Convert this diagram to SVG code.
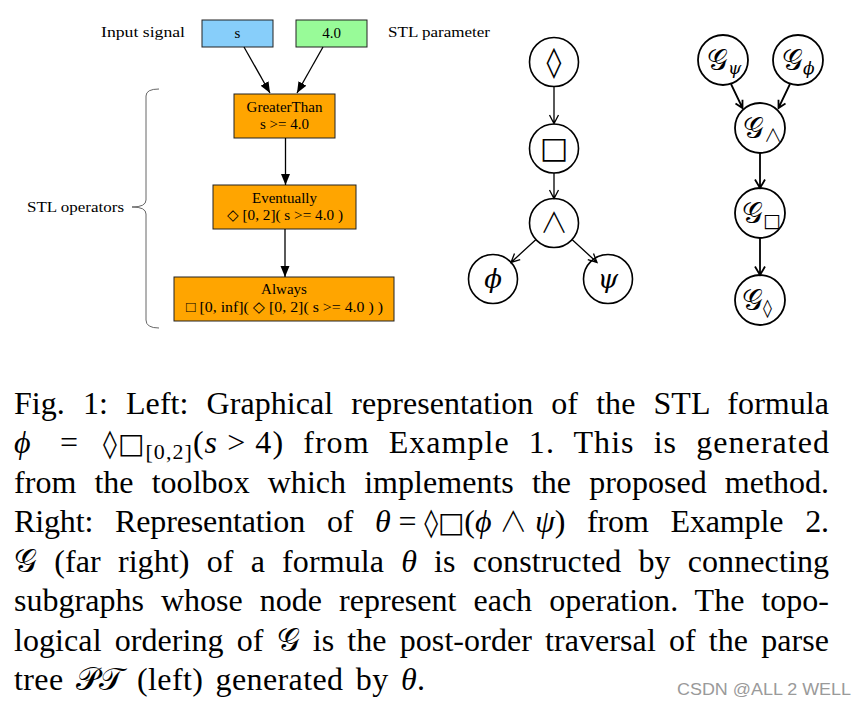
<svg xmlns="http://www.w3.org/2000/svg" width="866" height="705" viewBox="0 0 866 705">
<style>
.lbl{font-family:"Liberation Serif","DejaVu Serif",serif;font-size:15px;fill:#000}
.box{stroke:#222;stroke-width:1}
.cap{font-family:"Liberation Serif","DejaVu Serif","DejaVu Sans",serif;font-size:32px;fill:#000}
.it{font-style:italic}
.math{font-family:"DejaVu Serif","DejaVu Sans",serif}
.wedge{font-family:"Noto Sans CJK JP","DejaVu Sans",sans-serif;font-weight:300}
.node{fill:#fff;stroke:#000;stroke-width:1.6}
.node2{fill:#fff;stroke:#000;stroke-width:1.8}
.thin{font-family:"DejaVu Sans","Noto Sans",sans-serif;text-anchor:middle;fill:#000}
.gsym{font-family:"DejaVu Serif","DejaVu Sans","Noto Sans",serif;fill:#000}
.e1{stroke:#000;stroke-width:1.3;fill:none}
.e2{stroke:#000;stroke-width:1.8;fill:none}
.ev{stroke:#000;stroke-width:1.3;fill:none}
</style>
<defs>
<marker id="tri" markerUnits="userSpaceOnUse" markerWidth="12" markerHeight="10" refX="11" refY="4.5" orient="auto">
<path d="M0,0 L11,4.5 L0,9 Z" fill="#000"/>
</marker>
</defs>
<rect width="866" height="705" fill="#fff"/>

<!-- Left: toolbox graph -->
<text class="lbl" x="101" y="37" textLength="84" lengthAdjust="spacingAndGlyphs">Input signal</text>
<text class="lbl" x="388" y="37" textLength="102" lengthAdjust="spacingAndGlyphs">STL parameter</text>
<text class="lbl" x="27" y="212" textLength="97" lengthAdjust="spacingAndGlyphs">STL operators</text>
<path d="M159,89 Q146,89 146,96 L146,200 Q146,207 132,207 Q146,207 146,214 L146,320 Q146,328 159,328" fill="none" stroke="#666" stroke-width="1"/>

<g id="n-s">
<rect class="box" x="202" y="20" width="71" height="27" fill="#87CEFA"/>
<text class="lbl" x="237.5" y="38" text-anchor="middle">s</text>
</g>
<g id="n-param">
<rect class="box" x="296" y="20" width="71" height="27" fill="#98FB98"/>
<text class="lbl" x="331.5" y="38" text-anchor="middle">4.0</text>
</g>
<g id="n-greater">
<rect class="box" x="234" y="94" width="101" height="44" fill="#FFA500"/>
<text class="lbl" x="284.5" y="112" text-anchor="middle">GreaterThan</text>
<text class="lbl" x="284.5" y="129" text-anchor="middle">s &gt;= 4.0</text>
</g>
<g id="n-eventually">
<rect class="box" x="213" y="185" width="143" height="44" fill="#FFA500"/>
<text class="lbl" x="284.5" y="203" text-anchor="middle">Eventually</text>
<text class="lbl" x="285" y="220" text-anchor="middle" textLength="116" lengthAdjust="spacingAndGlyphs">◇ [0, 2]( s &gt;= 4.0 )</text>
</g>
<g id="n-always">
<rect class="box" x="174" y="277" width="220" height="44" fill="#FFA500"/>
<text class="lbl" x="284" y="294" text-anchor="middle">Always</text>
<text class="lbl" x="284.5" y="312" text-anchor="middle" textLength="197" lengthAdjust="spacingAndGlyphs">□ [0, inf]( ◇ [0, 2]( s &gt;= 4.0 ) )</text>
</g>

<!-- Middle: parse tree -->
<g id="p-ev">
<circle class="node" cx="554" cy="62" r="24.5"/>
<text class="thin" x="554" y="72" font-size="30">◊</text>
</g>
<g id="p-alw">
<circle class="node" cx="554" cy="148.5" r="24.5"/>
<text class="thin" x="554" y="158" font-size="30">□</text>
</g>
<g id="p-and">
<circle class="node" cx="554" cy="223" r="24.5"/>
<text class="wedge" x="554" y="233" font-size="28" text-anchor="middle">∧</text>
</g>
<g id="p-phi">
<circle class="node" cx="493" cy="279" r="24.5"/>
<text class="gsym it" x="493" y="288" font-size="26" text-anchor="middle">ϕ</text>
</g>
<g id="p-psi">
<circle class="node" cx="608" cy="279" r="24.5"/>
<text class="gsym it" x="608" y="288" font-size="26" text-anchor="middle">ψ</text>
</g>

<!-- Right: G graph -->
<g id="g-psi">
<circle class="node2" cx="723" cy="60" r="25"/>
<text class="gsym" x="707" y="70" font-size="29">𝒢<tspan class="it" font-size="17" dy="4">ψ</tspan></text>
</g>
<g id="g-phi">
<circle class="node2" cx="798" cy="60" r="25"/>
<text class="gsym" x="782" y="70" font-size="29">𝒢<tspan class="it" font-size="17" dy="4">ϕ</tspan></text>
</g>
<g id="g-and">
<circle class="node2" cx="760" cy="128" r="25"/>
<text class="gsym" x="743" y="138" font-size="29">𝒢<tspan class="wedge" font-size="18" dy="4">∧</tspan></text>
</g>
<g id="g-alw">
<circle class="node2" cx="760" cy="213" r="25"/>
<text class="gsym" x="742" y="223" font-size="29">𝒢<tspan font-size="19" dy="4">□</tspan></text>
</g>
<g id="g-ev">
<circle class="node2" cx="760" cy="300" r="25"/>
<text class="gsym" x="742" y="310" font-size="29">𝒢<tspan font-size="18" dy="4">◊</tspan></text>
</g>

<g id="connectors">
<line class="e1" x1="244" y1="47" x2="270" y2="93" marker-end="url(#tri)"/>
<line class="e1" x1="323" y1="47" x2="297" y2="93" marker-end="url(#tri)"/>
<line class="e1" x1="285.5" y1="138" x2="285.5" y2="185" marker-end="url(#tri)"/>
<line class="e1" x1="285" y1="229" x2="285" y2="277" marker-end="url(#tri)"/>

<path class="ev" d="M554,86.5 L554,123.5 M549.5,115 L554,123.5 L558.5,115"/>
<path class="ev" d="M554,173 L554,198.5 M549.5,190 L554,198.5 L558.5,190"/>
<path class="ev" d="M536,239.6 L511,262.4 M514.5,253.5 L511,262.4 L520.2,259.7"/>
<path class="ev" d="M572,239.6 L597,262.4 M587.8,259.7 L597,262.4 L593.5,253.5"/>

<path class="e2" d="M731,84 L742.5,108 M735.5,103.5 L742.5,108 L742.5,99.8"/>
<path class="e2" d="M790,84 L778.5,108 M778.5,99.8 L778.5,108 L785.5,103.5"/>
<path class="e2" d="M760,153 L760,188 M755,179.5 L760,188 L765,179.5"/>
<path class="e2" d="M760,238 L760,275 M755,266.5 L760,275 L765,266.5"/>
</g>

<!-- Caption -->
<text class="cap" x="14" y="414" word-spacing="10" textLength="815" lengthAdjust="spacing">Fig. 1: Left: Graphical representation of the STL formula</text>
<text class="cap it" x="14" y="453">ϕ</text>
<text class="cap" x="60" y="453">=</text>
<text class="cap" x="103" y="453" word-spacing="10" textLength="726" lengthAdjust="spacing"><tspan class="math" font-size="28">◊□</tspan><tspan font-size="22" dy="6">[0,2]</tspan><tspan dy="-6">(</tspan><tspan class="it">s</tspan>&#8197;&gt;&#8197;4) from Example 1. This is generated</text>
<text class="cap" x="14" y="493" word-spacing="10" textLength="815" lengthAdjust="spacing">from the toolbox which implements the proposed method.</text>
<text class="cap" x="14" y="532" word-spacing="14" textLength="815" lengthAdjust="spacing">Right: Representation of <tspan class="it">θ</tspan>&#8197;=&#8197;<tspan class="math" font-size="28">◊□</tspan>(<tspan class="it">ϕ</tspan>&#8197;<tspan class="wedge" font-size="28">∧</tspan>&#8197;<tspan class="it">ψ</tspan>) from Example 2.</text>
<text class="cap" x="14" y="572" word-spacing="9" textLength="815" lengthAdjust="spacing"><tspan class="math">𝒢</tspan> (far right) of a formula <tspan class="it">θ</tspan> is constructed by connecting</text>
<text class="cap" x="14" y="611" word-spacing="9" textLength="815" lengthAdjust="spacing">subgraphs whose node represent each operation. The topo-</text>
<text class="cap" x="14" y="651" word-spacing="5" textLength="815" lengthAdjust="spacing">logical ordering of <tspan class="math">𝒢</tspan> is the post-order traversal of the parse</text>
<text class="cap" x="14" y="690" word-spacing="4" textLength="411" lengthAdjust="spacing">tree <tspan class="math">𝒫𝒯</tspan> (left) generated by <tspan class="it">θ</tspan>.</text>

<text x="677" y="695" font-family="Liberation Sans, Noto Sans, sans-serif" font-size="16" fill="#9a9a9a" textLength="174" lengthAdjust="spacingAndGlyphs">CSDN @ALL 2 WELL</text>
</svg>
